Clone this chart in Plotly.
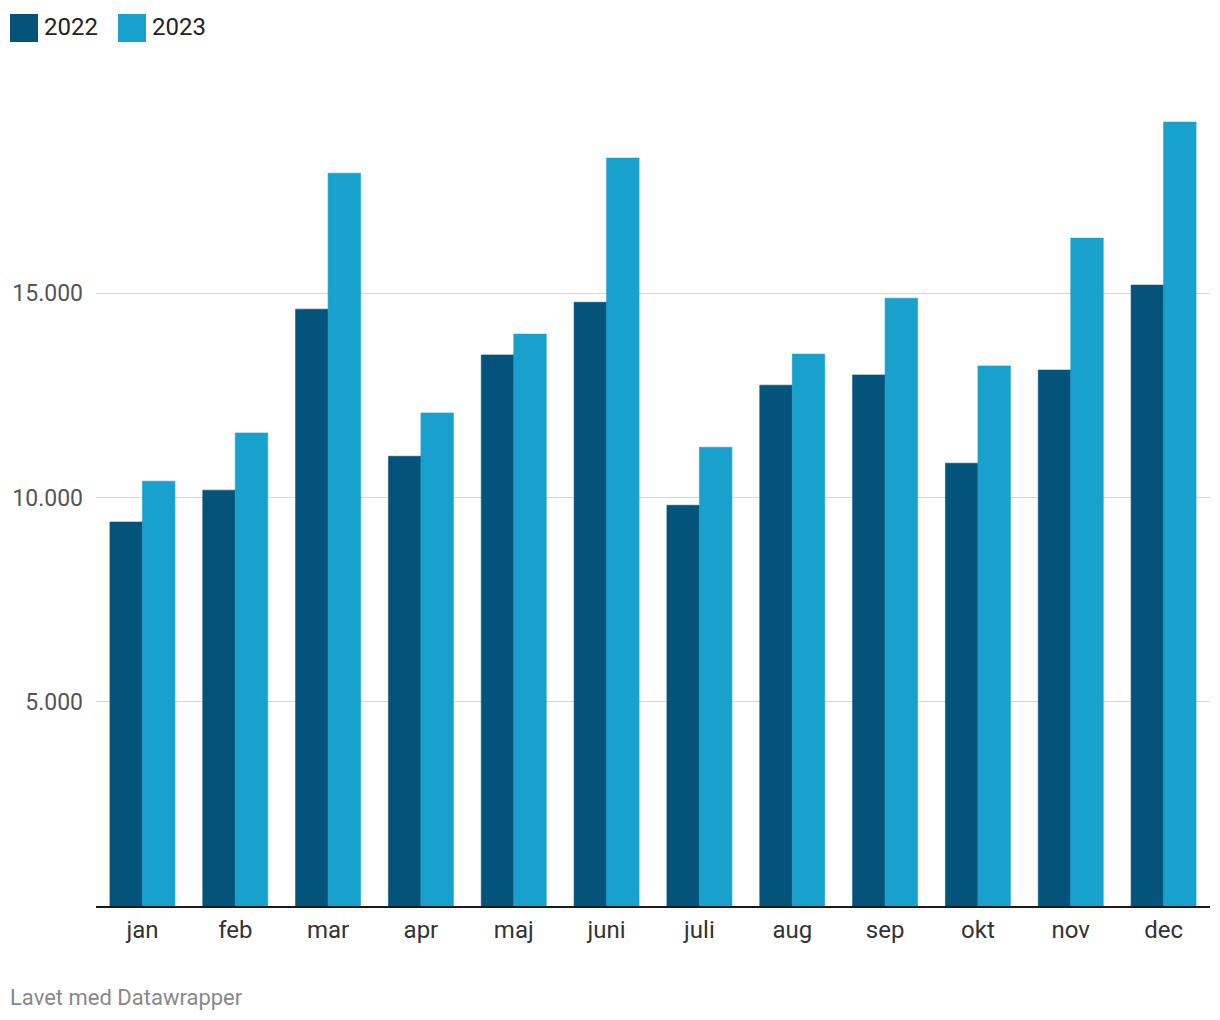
import plotly.graph_objects as go

months = ["jan", "feb", "mar", "apr", "maj", "juni", "juli", "aug", "sep", "okt", "nov", "dec"]
values_2022 = [9400, 10180, 14610, 11010, 13490, 14780, 9810, 12750, 13000, 10840, 13120, 15200]
values_2023 = [10400, 11580, 17940, 12070, 14000, 18310, 11230, 13510, 14880, 13220, 16350, 19190]
ytick_vals = [5000, 10000, 15000]
ytick_text = ["5.000", "10.000", "15.000"]

C2022 = "#03537b"
C2023 = "#18a1cd"

OFF = 8  # page body margin
W, H = 1220 - OFF, 1020 - OFF
L, R = 96 - OFF, 10
T = 89 - OFF
B = H - (906 - OFF)
pw, ph = W - L - R, H - T - B

def px(x):
    return (x - OFF - L) / pw

def py(y):
    return (H - B - (y - OFF)) / ph

fig = go.Figure()
fig.add_trace(go.Bar(x=months, y=values_2022, name="2022", marker_color=C2022,
                     marker_line_width=0.6, marker_line_color=C2022))
fig.add_trace(go.Bar(x=months, y=values_2023, name="2023", marker_color=C2023,
                     marker_line_width=0.6, marker_line_color=C2023))

fig.update_layout(
    width=W, height=H,
    margin=dict(l=L, r=R, t=T, b=B, autoexpand=False),
    paper_bgcolor="white", plot_bgcolor="white",
    barmode="group", bargap=0.3, bargroupgap=0,
    showlegend=False,
    font=dict(family="Roboto", size=20, color="#333333"),
)
fig.update_yaxes(
    range=[0, 20000], tickvals=ytick_vals, ticktext=ytick_text,
    showgrid=True, gridcolor="#d6d6d6", gridwidth=1,
    zeroline=False, showline=False, ticks="",
    ticklabelstandoff=12, automargin=False,
    tickfont=dict(family="Roboto", size=23, color="#555555"),
)
fig.update_xaxes(
    showline=True, linecolor="#1a1a1a", linewidth=2,
    ticks="", showgrid=False, automargin=False,
    tickfont=dict(family="Roboto", size=24, color="#333333"),
    ticklabelstandoff=1,
)

# manual legend
for i, (name, col) in enumerate([("2022", C2022), ("2023", C2023)]):
    x0 = 10 + i * 108
    fig.add_shape(type="rect", xref="paper", yref="paper",
                  x0=px(x0), x1=px(x0 + 28), y0=py(42), y1=py(14),
                  fillcolor=col, line_width=0)
    fig.add_annotation(xref="paper", yref="paper", x=px(x0 + 32), y=py(27),
                       text=name, showarrow=False, xanchor="left", yanchor="middle",
                       font=dict(family="Roboto", size=24, color="#222222"))

fig.add_annotation(xref="paper", yref="paper", x=px(8), y=py(997),
                   text="Lavet med Datawrapper", showarrow=False,
                   xanchor="left", yanchor="middle",
                   font=dict(family="Roboto", size=22, color="#888888"))

fig.write_html("out.html")
